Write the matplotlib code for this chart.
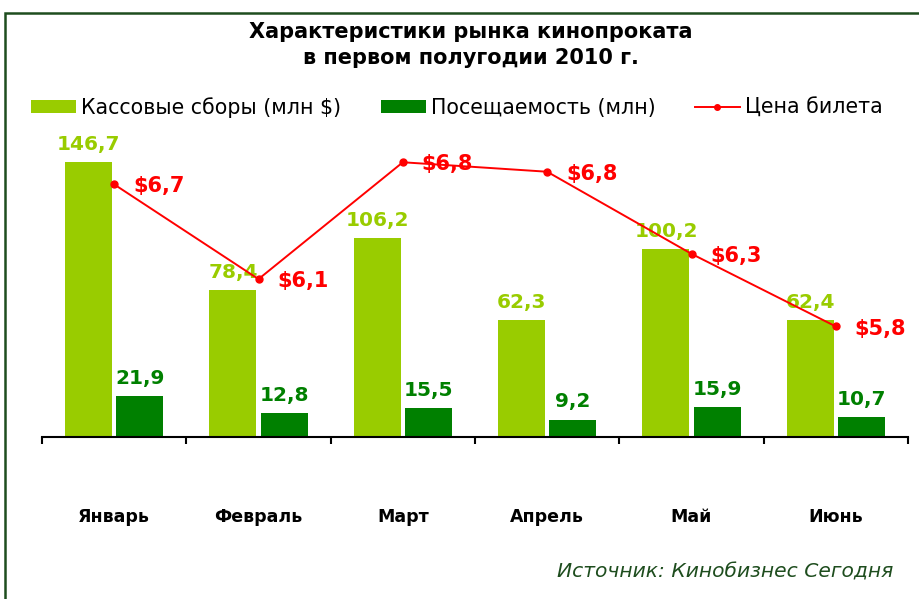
import numpy as np
import matplotlib
matplotlib.use('Agg')
import matplotlib.pyplot as plt
from matplotlib.patches import Rectangle, Patch
from matplotlib.lines import Line2D

# --- data ---
months = ["Январь", "Февраль", "Март", "Апрель", "Май", "Июнь"]
box_office = [146.7, 78.4, 106.2, 62.3, 100.2, 62.4]      # млн $
attendance = [21.9, 12.8, 15.5, 9.2, 15.9, 10.7]          # млн
ticket_price = [6.7, 6.1, 6.84, 6.78, 6.26, 5.8]          # $ (plot position)
price_labels = ["$6,7", "$6,1", "$6,8", "$6,8", "$6,3", "$5,8"]

LIGHT = "#99CC00"
DARK = "#008000"
RED = "#FF0000"
FRAME = "#1E4D1E"

W, H = 920, 599
plt.rcParams['font.family'] = ['DejaVu Sans']

fig = plt.figure(figsize=(W / 100, H / 100), dpi=100)

# dark green frame, runs off the right and bottom edges like the source image
fig.patches.append(Rectangle((5 / W, -0.1), 2.0, 1.1 - 13 / H,
                             transform=fig.transFigure, fill=False,
                             edgecolor=FRAME, linewidth=1.8))

ax = fig.add_axes([42 / W, 1 - 437 / H, (908 - 42) / W, 300 / H])
x = np.arange(len(months))
bw = 0.326
off = 0.177

ax.bar(x - off, box_office, width=bw, color=LIGHT, zorder=2)
ax.bar(x + off, attendance, width=bw, color=DARK, zorder=2)
ax.set_ylim(0, 160)
ax.set_xlim(-0.5, len(months) - 0.5)

for xi, v in zip(x, box_office):
    ax.annotate(f"{v:.1f}".replace(".", ","), (xi - off, v), xytext=(0, 6),
                textcoords="offset points", ha="center", va="bottom",
                color=LIGHT, fontsize=14.5, fontweight="bold")
for xi, v in zip(x, attendance):
    ax.annotate(f"{v:.1f}".replace(".", ","), (xi + off, v), xytext=(0, 6),
                textcoords="offset points", ha="center", va="bottom",
                color=DARK, fontsize=14.5, fontweight="bold")

# axes styling: only the bottom spine, ticks at category boundaries
for s in ["top", "right", "left"]:
    ax.spines[s].set_visible(False)
ax.spines["bottom"].set_linewidth(1.5)
ax.set_yticks([])
ax.set_xticks(x)
ax.set_xticklabels(months, fontsize=12.5, fontweight="bold")
ax.tick_params(axis="x", which="major", length=0, pad=51)
ax.set_xticks(np.arange(-0.5, len(months)), minor=True)
ax.tick_params(axis="x", which="minor", length=5, width=1.5, direction="out")

# ticket price on a hidden secondary axis
ax2 = ax.twinx()
ax2.plot(x, ticket_price, color=RED, linewidth=1.4, marker="o", markersize=5, zorder=3)
ax2.set_ylim(5.1, 7.0)
ax2.set_yticks([])
for s in ["top", "right", "left", "bottom"]:
    ax2.spines[s].set_visible(False)
for xi, v, lab in zip(x, ticket_price, price_labels):
    ax2.annotate(lab, (xi, v), xytext=(13.5, -1.5), textcoords="offset points",
                 ha="left", va="center", color=RED, fontsize=15, fontweight="bold")

# title
fig.text(471 / W, 1 - 32 / H, "Характеристики рынка кинопроката",
         ha="center", va="center", fontsize=15, fontweight="bold")
fig.text(471 / W, 1 - 58.5 / H, "в первом полугодии 2010 г.",
         ha="center", va="center", fontsize=15, fontweight="bold")

# legend
handles = [Patch(facecolor=LIGHT, edgecolor="none"),
           Patch(facecolor=DARK, edgecolor="none"),
           Line2D([0], [0], color=RED, linewidth=1.4, marker="o", markersize=4)]
labels = ["Кассовые сборы (млн $)", "Посещаемость (млн)", "Цена билета"]
fig.legend(handles, labels, loc="center", bbox_to_anchor=(457 / W, 1 - 107.5 / H),
           ncol=3, frameon=False, fontsize=14.8, handlelength=2.2, handleheight=0.58,
           handletextpad=0.25, columnspacing=1.9, borderpad=0, borderaxespad=0)

# source note
fig.text(893 / W, 1 - 572 / H, "Источник: Кинобизнес Сегодня", ha="right", va="center",
         fontsize=14.6, style="italic", color=FRAME)

fig.savefig("out.png", dpi=100)
